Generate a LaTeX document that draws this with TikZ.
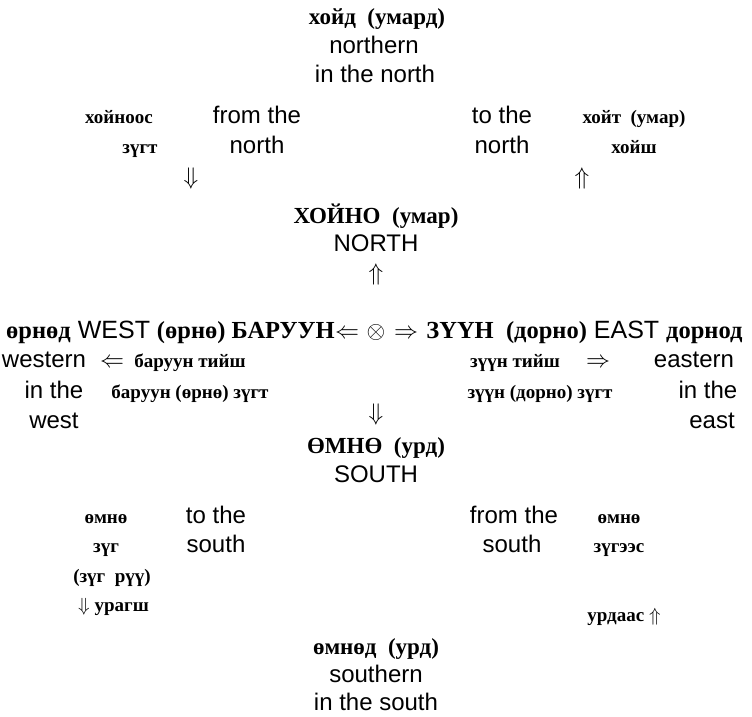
\documentclass[tikz,border=0pt]{standalone}
\usepackage{fix-cm}
\usepackage{amsmath}
\usepackage{fontspec}
\setmainfont{Liberation Sans}
\newfontfamily\mnfont{Liberation Serif}
\newcommand\mong[1]{{\mnfont\bfseries\fontsize{24.5}{24.5}\selectfont #1}}

\begin{document}
\begin{tikzpicture}[x=1pt,y=-1pt,
  en/.style={font=\fontsize{24}{24}\selectfont,inner sep=0pt,anchor=base},
  mn/.style={font=\mnfont\bfseries\fontsize{19}{19}\selectfont,inner sep=0pt,anchor=base},
  mnbig/.style={font=\mnfont\bfseries\fontsize{23}{23}\selectfont,inner sep=0pt,anchor=base},
  arr/.style={font=\fontsize{24}{24}\selectfont,inner sep=0pt,anchor=base}]
  \useasboundingbox (0,0) rectangle (752,716);

  % north
  \node[mnbig] (hoid)     at (377,24)  {хойд\enspace(умард)};
  \node[en]    (northern) at (374,53)  {northern};
  \node[en]    (innorth)  at (375,82)  {in the north};

  \node[mn]  (hoinoos) at (119,123) {хойноос};
  \node[en]  (fromN)   at (257,123) {from the};
  \node[mn]  (zugtN)   at (140,153) {зүгт};
  \node[en]  (northA)  at (257,153) {north};
  \node[arr] (dN)      at (191,184) {$\Downarrow$};

  \node[en]  (toN)    at (502,123) {to the};
  \node[en]  (northB) at (502,153) {north};
  \node[mn]  (hoit)   at (634,123) {хойт\enspace(умар)};
  \node[mn]  (hoish)  at (634,153) {хойш};
  \node[arr] (uN)     at (582,184) {$\Uparrow$};

  \node[mnbig] (hoino) at (376,223) {ХОЙНО\enspace(умар)};
  \node[en]    (NORTH) at (376,251) {NORTH};
  \node[arr]   (uC)    at (376,280) {$\Uparrow$};

  % west - centre - east
  \node[arr] (cross) at (376,338) {$\otimes$};
  \node[arr] (lW)    at (347,338) {$\Leftarrow$};
  \node[arr] (rE)    at (406,338) {$\Rightarrow$};
  \node[en,font=\fontsize{25}{25}\selectfont,anchor=base east] (WEST) at (lW.base west)
    {\mong{өрнөд} WEST \mong{(өрнө) БАРУУН}};
  \node[en,font=\fontsize{25}{25}\selectfont,anchor=base west] (EAST) at ([xshift=8pt]rE.base east)
    {\mong{ЗҮҮН\enspace(дорно)} EAST \mong{дорнод}};

  \node[en]  (western) at (44,367)  {western};
  \node[arr] (lw)      at (112,367) {$\Leftarrow$};
  \node[mn]  (barT)    at (190,367) {баруун тийш};
  \node[en]  (inW)     at (54,398)  {in the};
  \node[mn]  (barZ)    at (190,398) {баруун (өрнө) зүгт};
  \node[en]  (west)    at (54,428)  {west};

  \node[mn]  (zuunT)   at (515,367) {зүүн тийш};
  \node[arr] (re)      at (598,367) {$\Rightarrow$};
  \node[en]  (eastern) at (694,367) {eastern};
  \node[mn]  (zuunZ)   at (540,398) {зүүн (дорно) зүгт};
  \node[en]  (inE)     at (708,398) {in the};
  \node[en]  (east)    at (712,428) {east};

  % south
  \node[arr]   (dC)    at (376,420) {$\Downarrow$};
  \node[mnbig] (omno)  at (376,453) {ӨМНӨ\enspace(урд)};
  \node[en]    (SOUTH) at (376,482) {SOUTH};

  \node[mn] (omnoA)  at (106,523) {өмнө};
  \node[en] (toS)    at (216,523) {to the};
  \node[mn] (zugS)   at (106,552) {зүг};
  \node[en] (southA) at (216,552) {south};
  \node[mn] (zugruu) at (112,582) {(зүг\enspace рүү)};
  \node[mn,anchor=base west] (uragsh) at (78,611) {$\Downarrow$ урагш};

  \node[en] (fromS)  at (514,523) {from the};
  \node[mn] (omnoB)  at (619,523) {өмнө};
  \node[en] (southB) at (512,552) {south};
  \node[mn] (zugees) at (619,552) {зүгээс};
  \node[mn] (urdaas) at (624,621) {урдаас $\Uparrow$};

  \node[mnbig] (omnod)    at (376,654) {өмнөд\enspace(урд)};
  \node[en]    (southern) at (376,682) {southern};
  \node[en]    (insouth)  at (376,710) {in the south};

\end{tikzpicture}
\end{document}
